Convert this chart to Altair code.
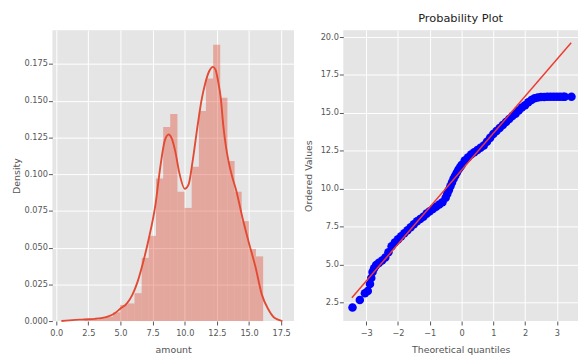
import altair as alt
import pandas as pd

# ---------------- data ----------------
# histogram (density) of "amount"
bin_edges = [2.20, 2.76, 3.31, 3.87, 4.42, 4.98, 5.54, 6.09, 6.65, 7.20, 7.76, 8.32, 8.87,
             9.43, 9.98, 10.54, 11.10, 11.65, 12.21, 12.76, 13.32, 13.88, 14.43, 14.99, 15.54, 16.10]
bin_density = [0.001, 0.001, 0.002, 0.003, 0.006, 0.011, 0.012, 0.019, 0.043, 0.058, 0.097, 0.132,
                0.141, 0.088, 0.077, 0.105, 0.143, 0.165, 0.188, 0.152, 0.109, 0.088, 0.068, 0.049, 0.044]

# KDE curve
kde_x = [0.4, 1.0, 1.5, 2.0, 2.5, 3.0, 3.5, 4.0, 4.5, 5.0, 5.5, 5.9, 6.3, 6.7, 7.2, 7.7, 8.1, 8.45,
         8.75, 9.0, 9.25, 9.6, 10.0, 10.3, 10.6, 11.0, 11.3, 11.6, 11.9, 12.2, 12.4, 12.6, 12.8, 13.0,
         13.2, 13.4, 13.7, 14.0, 14.5, 15.0, 15.5, 16.0, 16.5, 17.0, 17.6]
kde_y = [0.000, 0.0005, 0.0008, 0.001, 0.0012, 0.0015, 0.002, 0.003, 0.005, 0.0085, 0.012, 0.0175,
         0.026, 0.038, 0.056, 0.078, 0.105, 0.123, 0.127, 0.124, 0.116, 0.100, 0.090, 0.093, 0.108,
         0.133, 0.150, 0.162, 0.170, 0.173, 0.171, 0.163, 0.152, 0.133, 0.119, 0.109, 0.098, 0.089,
         0.070, 0.053, 0.037, 0.018, 0.008, 0.002, 0.000]

# probability plot points (theoretical quantile, ordered value)
qq_theoretical = [-3.43, -3.20, -3.04, -2.95, -2.88, -2.84, -2.80, -2.75, -2.69, -2.60, -2.50, -2.40,
                  -2.30, -2.20, -2.10, -2.00, -1.90, -1.80, -1.70, -1.60, -1.50, -1.40, -1.30, -1.20,
                  -1.10, -1.00, -0.90, -0.80, -0.70, -0.60, -0.50, -0.45, -0.40, -0.35, -0.30, -0.25,
                  -0.20, -0.15, -0.10, -0.05, 0.00, 0.10, 0.20, 0.30, 0.40, 0.50, 0.60, 0.70, 0.80,
                  0.90, 1.00, 1.10, 1.20, 1.30, 1.40, 1.50, 1.60, 1.70, 1.80, 1.90, 2.00, 2.10, 2.20,
                  2.30, 2.40, 2.50, 2.60, 2.70, 2.80, 2.90, 3.00, 3.10, 3.20, 3.25, 3.46]
qq_ordered = [2.15, 2.65, 3.10, 3.25, 3.70, 4.10, 4.50, 4.75, 4.95, 5.10, 5.25, 5.45,
              5.80, 6.20, 6.45, 6.65, 6.85, 7.05, 7.25, 7.45, 7.65, 7.85, 8.00, 8.15,
              8.35, 8.50, 8.65, 8.80, 8.95, 9.10, 9.40, 9.65, 9.90, 10.15, 10.40, 10.65,
              10.85, 11.05, 11.25, 11.40, 11.55, 11.85, 12.05, 12.25, 12.40, 12.55, 12.70, 12.85, 13.10,
              13.35, 13.60, 13.80, 14.00, 14.20, 14.40, 14.60, 14.80, 14.95, 15.15, 15.35, 15.50, 15.70, 15.85,
              15.97, 16.02, 16.05, 16.05, 16.06, 16.06, 16.06, 16.06, 16.07, 16.07, 16.07, 16.07]

# least-squares fit line end points
fit_x = [-3.45, 3.45]
fit_y = [2.80, 19.63]

# tick labels
left_x_ticks = [0.0, 2.5, 5.0, 7.5, 10.0, 12.5, 15.0, 17.5]
left_y_ticks = [0.000, 0.025, 0.050, 0.075, 0.100, 0.125, 0.150, 0.175]
right_x_ticks = [-3, -2, -1, 0, 1, 2, 3]
right_y_ticks = [2.5, 5.0, 7.5, 10.0, 12.5, 15.0, 17.5, 20.0]

# ---------------- chart ----------------
FONT = "DejaVu Sans"
hist_df = pd.DataFrame({"x0": bin_edges[:-1], "x1": bin_edges[1:], "density": bin_density})
kde_df = pd.DataFrame({"x": kde_x, "y": kde_y})
qq_df = pd.DataFrame({"q": qq_theoretical, "v": qq_ordered})
fit_df = pd.DataFrame({"q": fit_x, "v": fit_y})

ax = dict(grid=True, gridColor="white", gridWidth=1, domain=False, tickColor="#555555",
          tickSize=4, labelColor="#555555", labelFont=FONT, labelFontSize=8.3, titleFont=FONT,
          titleFontSize=9.5, titleColor="#555555", titleFontWeight="normal",
          labelOverlap=False, labelFlush=False, labelBound=False, labelSeparation=0)
axx = dict(ax, labelPadding=4, titlePadding=8)

lx = alt.Scale(domain=[-0.3, 18.5], nice=False, zero=False)
ly = alt.Scale(domain=[0, 0.198], nice=False)

l_xaxis = alt.Axis(values=left_x_ticks, format=".1f", title="amount", **axx)
l_yaxis = alt.Axis(values=left_y_ticks, format=".3f", title="Density", labelPadding=1, titlePadding=3, **ax)

bars = alt.Chart(hist_df).mark_rect(color="#E24A33", opacity=0.4).encode(
    x=alt.X("x0:Q", scale=lx, axis=l_xaxis),
    x2="x1:Q",
    y=alt.Y("density:Q", scale=ly, axis=l_yaxis),
    y2=alt.datum(0),
)
kde = alt.Chart(kde_df).mark_line(color="#E24A33", strokeWidth=1.9, interpolate="monotone").encode(
    x=alt.X("x:Q", scale=lx, axis=l_xaxis),
    y=alt.Y("y:Q", scale=ly, axis=l_yaxis),
)
left = alt.layer(bars, kde).properties(width=245, height=295)

rx = alt.Scale(domain=[-3.72, 3.665], nice=False, zero=False)
ry = alt.Scale(domain=[1.26, 20.46], nice=False, zero=False)

r_xaxis = alt.Axis(values=right_x_ticks, format="d", title="Theoretical quantiles", **axx)
r_yaxis = alt.Axis(values=right_y_ticks, format=".1f", title="Ordered Values", labelPadding=1, titlePadding=7, **ax)
pts = alt.Chart(qq_df).mark_circle(color="#0000FF", size=75, opacity=1).encode(
    x=alt.X("q:Q", scale=rx, axis=r_xaxis),
    y=alt.Y("v:Q", scale=ry, axis=r_yaxis),
)
fit = alt.Chart(fit_df).mark_line(color="#EE3B2F", strokeWidth=1.5).encode(
    x=alt.X("q:Q", scale=rx, axis=r_xaxis), y=alt.Y("v:Q", scale=ry, axis=r_yaxis)
)
right = alt.layer(pts, fit).properties(
    width=238, height=295,
    title=alt.TitleParams("Probability Plot", font=FONT, fontSize=11.5, fontWeight="normal",
                          color="#222222", offset=6),
)

chart = alt.hconcat(left, right, spacing=50, bounds="flush").properties(
    padding={"left": 3, "top": 2, "right": 0, "bottom": 0}
).configure_view(fill="#E5E5E5", strokeWidth=0).configure_axis(labelOverlap=False)

chart.save("out.html", embed_options={"renderer": "svg", "actions": False})
